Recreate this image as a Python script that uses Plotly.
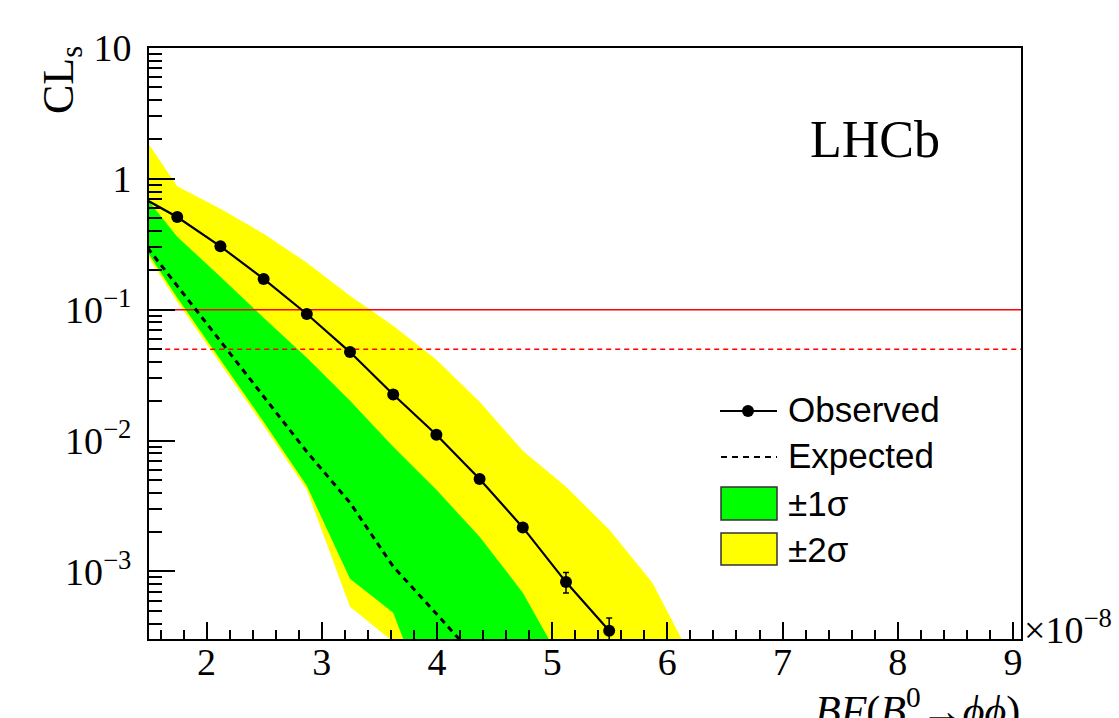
import plotly.graph_objects as go

# ---- scan points (branching fraction, units of 1e-8) ----
scan_x = [1.37, 1.745, 2.12, 2.495, 2.87, 3.245, 3.62, 3.995, 4.37, 4.745, 5.12, 5.495, 5.87, 6.245]

# observed CLs with uncertainties
obs_x = scan_x[:12]
obs_cls = [0.779, 0.511, 0.305, 0.172, 0.0928, 0.0475, 0.0225, 0.0111, 0.00509, 0.00217, 8.3e-4, 3.52e-4]
obs_err_up = [0.0, 0.008, 0.005, 0.003, 0.0015, 0.0008, 0.0004, 0.0002, 0.0001, 0.00005, 1.54e-4, 0.89e-4]
obs_err_dn = [0.0, 0.008, 0.005, 0.003, 0.0015, 0.0008, 0.0004, 0.0002, 0.0001, 0.00005, 1.46e-4, 0.85e-4]

# expected (median) CLs
exp_x = scan_x[:9]
exp_cls = [0.403, 0.153, 0.058, 0.0216, 0.00822, 0.00335, 0.00109, 4.75e-4, 2.04e-4]

# +-1 sigma band
g1_up_x = scan_x[:11]
g1_up = [0.935, 0.361, 0.179, 0.0869, 0.043, 0.0202, 0.00898, 0.00421, 0.00184, 6.89e-4, 1.77e-4]
g1_dn_x = scan_x[:8]
g1_dn = [0.395, 0.1236, 0.0415, 0.01394, 0.00452, 8.8e-4, 4.84e-4, 6.7e-5]

# +-2 sigma band
g2_up_x = scan_x[:14]
g2_up = [2.70, 0.877, 0.592, 0.381, 0.229, 0.128, 0.0755, 0.0415, 0.0198, 0.00837, 0.00444, 0.00209, 8.2e-4, 1.9e-4]
g2_dn_x = scan_x[:8]
g2_dn = [0.3746, 0.115, 0.0387, 0.0130, 0.00421, 5.38e-4, 2.9e-4, 1.05e-4]

# confidence-level reference lines
cl90 = 0.10
cl95 = 0.05

# axis tick labels
x_ticks = [2, 3, 4, 5, 6, 7, 8, 9]
x_ticktext = ["2", "3", "4", "5", "6", "7", "8", "9"]
y_ticks = [1e-3, 1e-2, 1e-1, 1, 10]
y_ticktext = ["10<sup>\u22123</sup>", "10<sup>\u22122</sup>", "10<sup>\u22121</sup>", "1", "10"]

YELLOW = "#ffff00"
GREEN = "#00ff00"
SERIF = "Liberation Serif"
SANS = "Liberation Sans"

W, H = 1119, 718
ML, MR, MT, MB = 149, 98, 48, 79
PW, PH = W - ML - MR, H - MT - MB


def px(x):
    return (x - ML) / PW


def py(y):
    return (H - MB - y) / PH


fig = go.Figure()

fig.add_trace(go.Scatter(
    x=g2_up_x + g2_dn_x[::-1], y=g2_up + g2_dn[::-1],
    fill="toself", fillcolor=YELLOW, mode="lines", line=dict(width=0),
    hoverinfo="skip", showlegend=False))
fig.add_trace(go.Scatter(
    x=g1_up_x + g1_dn_x[::-1], y=g1_up + g1_dn[::-1],
    fill="toself", fillcolor=GREEN, mode="lines", line=dict(width=0),
    hoverinfo="skip", showlegend=False))

fig.add_trace(go.Scatter(
    x=[0, 10], y=[cl90, cl90], mode="lines",
    line=dict(color="#ff0000", width=1.5), showlegend=False))
fig.add_trace(go.Scatter(
    x=[0, 10], y=[cl95, cl95], mode="lines",
    line=dict(color="#ff0000", width=1.5, dash="5px,4px"), showlegend=False))

fig.add_trace(go.Scatter(
    x=exp_x, y=exp_cls, mode="lines",
    line=dict(color="black", width=3, dash="6px,5px"), showlegend=False))

fig.add_trace(go.Scatter(
    x=obs_x, y=obs_cls, mode="lines+markers",
    line=dict(color="black", width=2.2),
    marker=dict(color="black", size=12),
    error_y=dict(type="data", symmetric=False, array=obs_err_up, arrayminus=obs_err_dn,
                 color="black", thickness=1.5, width=3),
    showlegend=False))

fig.update_xaxes(
    range=[1.5, 9.07], showgrid=False, zeroline=False,
    showline=True, linecolor="black", linewidth=2, mirror=True,
    ticks="inside", ticklen=17, tickwidth=2, tickcolor="black",
    tickvals=x_ticks, ticktext=x_ticktext, ticklabelstandoff=-12,
    tickfont=dict(family=SERIF, size=38, color="black"),
    minor=dict(ticks="inside", ticklen=9, tickwidth=1.5, tickcolor="black",
               dtick=0.2, tick0=0, showgrid=False),
)
fig.update_yaxes(
    type="log", range=[-3.516, 1], showgrid=False, zeroline=False,
    showline=True, linecolor="black", linewidth=2, mirror=True,
    ticks="inside", ticklen=26, tickwidth=2, tickcolor="black",
    tickvals=y_ticks, ticktext=y_ticktext, ticklabelstandoff=8,
    tickfont=dict(family=SERIF, size=38, color="black"),
    minor=dict(ticks="inside", ticklen=13, tickwidth=1.5, tickcolor="black",
               tickmode="array",
               tickvals=[m * 10.0 ** e for e in range(-4, 1) for m in range(2, 10)],
               showgrid=False),
)

annotations = [
    dict(text="LHCb", x=px(808), y=py(140), xref="paper", yref="paper",
         xanchor="left", yanchor="middle", showarrow=False,
         font=dict(family=SERIF, size=52, color="black")),
    dict(text="CL<sub>s</sub>", x=px(62), y=py(44), xref="paper", yref="paper",
         xanchor="center", yanchor="top", textangle=-90, showarrow=False,
         font=dict(family=SERIF, size=44, color="black")),
    dict(text="\u00d710<sup>\u22128</sup>", x=px(1022), y=py(627), xref="paper", yref="paper",
         xanchor="left", yanchor="middle", showarrow=False,
         font=dict(family=SERIF, size=38, color="black")),
    dict(text="<i>BF</i>(<i>B</i><sup>0</sup>\u2192<i>\u03d5\u03d5</i>)", x=px(1022), y=py(679),
         xref="paper", yref="paper", xanchor="right", yanchor="top", showarrow=False,
         font=dict(family=SERIF, size=42, color="black")),
]

# legend
leg_rows = [("Observed", 409), ("Expected", 455), ("\u00b11\u03c3", 503), ("\u00b12\u03c3", 549)]
for label, yc in leg_rows:
    annotations.append(dict(text=label, x=px(786), y=py(yc), xref="paper", yref="paper",
                            xanchor="left", yanchor="middle", showarrow=False,
                            font=dict(family=SANS, size=35, color="black")))

shapes = [
    dict(type="line", xref="paper", yref="paper", x0=px(720), x1=px(777), y0=py(411), y1=py(411),
         line=dict(color="black", width=2)),
    dict(type="circle", xref="paper", yref="paper", xsizemode="pixel", ysizemode="pixel",
         xanchor=px(748), yanchor=py(411), x0=-6, x1=6, y0=-6, y1=6,
         fillcolor="black", line=dict(width=0)),
    dict(type="line", xref="paper", yref="paper", x0=px(721), x1=px(777), y0=py(457), y1=py(457),
         line=dict(color="black", width=2, dash="6px,5px")),
    dict(type="rect", xref="paper", yref="paper", x0=px(721), x1=px(777), y0=py(487), y1=py(520),
         fillcolor=GREEN, line=dict(color="#333333", width=1.5)),
    dict(type="rect", xref="paper", yref="paper", x0=px(721), x1=px(777), y0=py(533), y1=py(565),
         fillcolor=YELLOW, line=dict(color="#333333", width=1.5)),
]

fig.update_layout(
    width=W, height=H, autosize=False,
    margin=dict(l=ML, r=MR, t=MT, b=MB, pad=0),
    paper_bgcolor="white", plot_bgcolor="white",
    showlegend=False,
    annotations=annotations, shapes=shapes,
)

fig.write_html("out.html")
